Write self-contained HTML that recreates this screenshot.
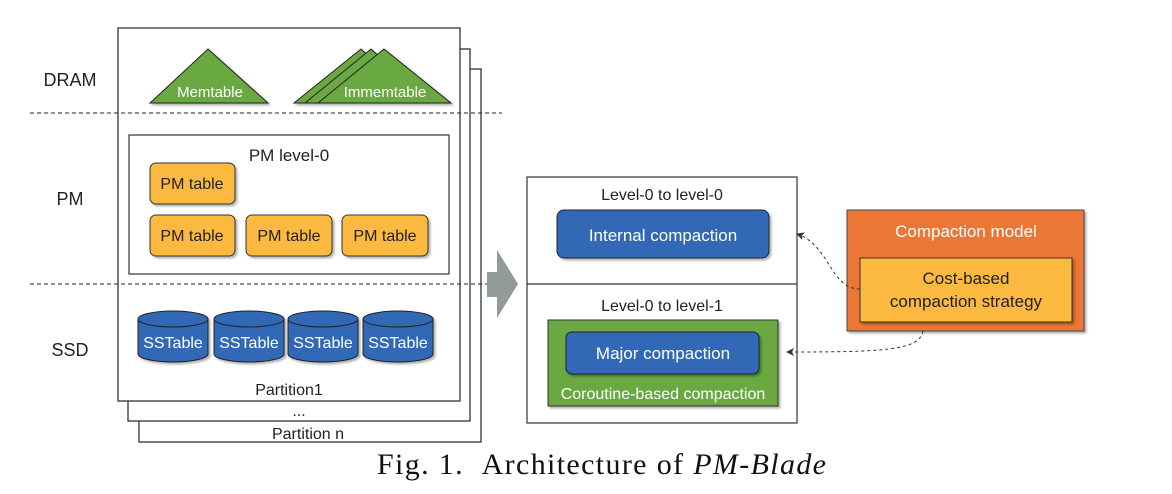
<!DOCTYPE html>
<html><head><meta charset="utf-8"><style>
body{margin:0;background:#fff;width:1172px;height:489px;overflow:hidden}
text{font-family:"Liberation Sans",sans-serif}
</style></head><body>
<svg width="1172" height="489" viewBox="0 0 1172 489" xmlns="http://www.w3.org/2000/svg">
<defs>
<filter id="sh" x="-10%" y="-10%" width="130%" height="130%"><feDropShadow dx="2" dy="2" stdDeviation="1" flood-color="#000" flood-opacity="0.3"/></filter>
<marker id="ar" markerWidth="8" markerHeight="8" refX="7" refY="4" orient="auto"><path d="M0,0 L8,4 L0,8 L2,4 Z" fill="#333"/></marker>
</defs>
<g stroke="#333" stroke-width="1.3" fill="#fff">
<rect x="139" y="69" width="342" height="373"/>
<rect x="128" y="49" width="342" height="372"/>
<rect x="118" y="28" width="342" height="373"/>
</g>
<text x="308" y="439" font-size="16" text-anchor="middle" fill="#222">Partition n</text>
<text x="299" y="416" font-size="16" text-anchor="middle" fill="#222">...</text>
<text x="289" y="395" font-size="16" text-anchor="middle" fill="#222">Partition1</text>
<line x1="30" y1="113" x2="502" y2="113" stroke="#222" stroke-dasharray="4,3"/>
<line x1="30" y1="284" x2="500" y2="284" stroke="#222" stroke-dasharray="4,3"/>
<text x="70" y="86" font-size="18" text-anchor="middle" fill="#222">DRAM</text>
<text x="70" y="205" font-size="18" text-anchor="middle" fill="#222">PM</text>
<text x="70" y="356" font-size="18" text-anchor="middle" fill="#222">SSD</text>
<g fill="#6aa843" stroke="#222" stroke-width="1" filter="url(#sh)">
<polygon points="208,49 268,103 150,103"/>
<polygon points="361,49 418,103 294,103"/>
<polygon points="371,49 430,103 305,103"/>
<polygon points="384,49 451,103 318,103"/>
</g>
<text x="210" y="97" font-size="15" fill="#fff" text-anchor="middle">Memtable</text>
<text x="385" y="97" font-size="15" fill="#fff" text-anchor="middle">Immemtable</text>
<rect x="129" y="135" width="320" height="139" fill="#fff" stroke="#333" stroke-width="1.2"/>
<text x="289" y="161" font-size="17" text-anchor="middle" fill="#222">PM level-0</text>
<g fill="#fbb941" stroke="#333" stroke-width="1" filter="url(#sh)">
<rect x="150" y="163" width="85" height="41" rx="6"/>
<rect x="150" y="215" width="85" height="41" rx="6"/>
<rect x="246" y="215" width="86" height="41" rx="6"/>
<rect x="342" y="215" width="86" height="41" rx="6"/>
</g>
<g font-size="16" fill="#222" text-anchor="middle">
<text x="192" y="189">PM table</text><text x="192" y="241">PM table</text>
<text x="289" y="241">PM table</text><text x="385" y="241">PM table</text>
</g>
<g fill="#3069b6" stroke="#222" stroke-width="1" filter="url(#sh)">
<path d="M138,319 v35 a35,8 0 0 0 70,0 v-35 a35,8 0 0 0 -70,0 a35,8 0 0 0 70,0"/>
<path d="M214,319 v35 a35,8 0 0 0 70,0 v-35 a35,8 0 0 0 -70,0 a35,8 0 0 0 70,0"/>
<path d="M288,319 v35 a35,8 0 0 0 70,0 v-35 a35,8 0 0 0 -70,0 a35,8 0 0 0 70,0"/>
<path d="M363,319 v35 a35,8 0 0 0 70,0 v-35 a35,8 0 0 0 -70,0 a35,8 0 0 0 70,0"/>
</g>
<g font-size="16" fill="#fff" text-anchor="middle">
<text x="173" y="348">SSTable</text><text x="249" y="348">SSTable</text>
<text x="323" y="348">SSTable</text><text x="398" y="348">SSTable</text>
</g>
<polygon points="487,272 497,272 497,250 518,284 497,318 497,297 487,297" fill="#939b98"/>
<rect x="527" y="177" width="270" height="246" fill="#fff" stroke="#333" stroke-width="1.2"/>
<line x1="527" y1="284" x2="797" y2="284" stroke="#333" stroke-width="1.2"/>
<text x="662" y="200" font-size="16" text-anchor="middle" fill="#222">Level-0 to level-0</text>
<text x="662" y="311" font-size="16" text-anchor="middle" fill="#222">Level-0 to level-1</text>
<rect x="557" y="210" width="212" height="48" rx="7" fill="#3069b6" stroke="#222" filter="url(#sh)"/>
<text x="663" y="241" font-size="17" fill="#fff" text-anchor="middle">Internal compaction</text>
<rect x="548" y="320" width="230" height="86" fill="#6aa843" stroke="#333" filter="url(#sh)"/>
<rect x="566" y="332" width="193" height="42" rx="6" fill="#3069b6" stroke="#222" filter="url(#sh)"/>
<text x="663" y="359" font-size="17" fill="#fff" text-anchor="middle">Major compaction</text>
<text x="663" y="399" font-size="16" fill="#fff" text-anchor="middle">Coroutine-based compaction</text>
<rect x="847" y="210" width="237" height="121" fill="#ec7634" stroke="#444" filter="url(#sh)"/>
<text x="966" y="237" font-size="17" fill="#fff" text-anchor="middle">Compaction model</text>
<rect x="860" y="258" width="212" height="64" fill="#fbb941" stroke="#333" filter="url(#sh)"/>
<text x="966" y="284" font-size="17" fill="#222" text-anchor="middle">Cost-based</text>
<text x="966" y="307" font-size="17" fill="#222" text-anchor="middle">compaction strategy</text>
<path d="M860,289 C830,289 830,245 797,234" fill="none" stroke="#333" stroke-dasharray="3,3" marker-end="url(#ar)"/>
<path d="M923,331 C920,351 880,352 787,352" fill="none" stroke="#333" stroke-dasharray="3,3" marker-end="url(#ar)"/>
<text x="377" y="474" font-size="30" textLength="449" lengthAdjust="spacing" fill="#111" style="font-family:'Liberation Serif',serif">Fig. 1.&#160;&#160;Architecture of <tspan font-style="italic">PM-Blade</tspan></text>
</svg>
</body></html>
